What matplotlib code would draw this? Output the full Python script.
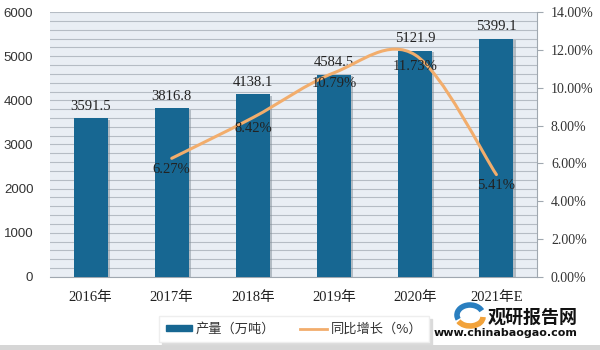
import matplotlib

matplotlib.use("Agg")
import matplotlib.pyplot as plt  # noqa: E402
import matplotlib.patheffects as pe  # noqa: E402
from matplotlib.patches import Arc, Patch, PathPatch, Rectangle  # noqa: E402
from matplotlib.lines import Line2D  # noqa: E402
from matplotlib.path import Path  # noqa: E402

years = ["2016年", "2017年", "2018年", "2019年", "2020年", "2021年E"]
output = [3591.5, 3816.8, 4138.1, 4584.5, 5121.9, 5399.1]
growth = [None, 6.27, 8.42, 10.79, 11.73, 5.41]

BAR = "#176792"
LINE = "#f2ad6c"
SERIF = ["Liberation Serif", "Noto Sans CJK SC"]
SANS = ["Liberation Sans", "Noto Sans CJK SC"]
CJK = ["Noto Sans CJK SC", "DejaVu Sans"]

plt.rcParams["font.family"] = CJK


def smooth_path(xs, ys):
    # Catmull-Rom style cubic Bezier through the points, like a smoothed office chart line
    pts = list(zip(xs, ys))
    verts = [pts[0]]
    codes = [Path.MOVETO]
    n = len(pts)
    for i in range(n - 1):
        p0 = pts[i - 1] if i > 0 else pts[i]
        p1 = pts[i]
        p2 = pts[i + 1]
        p3 = pts[i + 2] if i + 2 < n else pts[i + 1]
        c1 = (p1[0] + (p2[0] - p0[0]) / 6, p1[1] + (p2[1] - p0[1]) / 6)
        c2 = (p2[0] - (p3[0] - p1[0]) / 6, p2[1] - (p3[1] - p1[1]) / 6)
        verts += [c1, c2, p2]
        codes += [Path.CURVE4] * 3
    return Path(verts, codes)


fig = plt.figure(figsize=(6, 3.5), dpi=100)
ax = fig.add_axes([0.0833, 0.2086, 0.8117, 0.7571])
ax.set_facecolor("#e9eef4")
x = list(range(len(years)))

ax.bar(x, output, width=0.42, color=BAR, zorder=3,
       path_effects=[pe.withSimplePatchShadow(offset=(1.5, -1), shadow_rgbFace="#7f8c96", alpha=0.5)])
for xi, v in zip(x, output):
    ax.annotate(f"{v:.1f}", (xi, v), xytext=(0, 4), textcoords="offset points",
                ha="center", va="bottom", fontsize=10.5, family=SERIF, color="#222222", zorder=6)

ax.set_xlim(-0.5, len(years) - 0.5)
ax.set_ylim(0, 6000)
ax.set_yticks(range(0, 6001, 1000))
ax.set_yticks(range(0, 6001, 200), minor=True)
ax.grid(True, which="both", axis="y", color="#b5bcc4", linewidth=0.8, zorder=0)
ax.set_axisbelow(True)
ax.tick_params(axis="y", which="both", length=0, labelsize=9.5, labelcolor="#333333", pad=12)
ax.tick_params(axis="x", length=0, pad=10)
ax.set_xticks(x)
ax.set_xticklabels(years, family=SERIF, fontsize=10.5, color="#222222")
for lab in ax.get_yticklabels():
    lab.set_family(SANS)
for side in ("left", "top", "right"):
    ax.spines[side].set_visible(False)
ax.spines["bottom"].set_color("#a0a8b0")

ax2 = ax.twinx()
ax2.set_ylim(0, 14)
ax2.set_yticks(range(0, 15, 2))
ax2.set_yticklabels([f"{t:.2f}%" for t in range(0, 15, 2)], family=SERIF, fontsize=10, color="#333333")
ax2.tick_params(axis="y", length=4, color="#a0a8b0", pad=6)
for side in ("left", "top", "bottom"):
    ax2.spines[side].set_visible(False)
ax2.spines["right"].set_color("#a0a8b0")

gx = [xi for xi, g in zip(x, growth) if g is not None]
gy = [g for g in growth if g is not None]
ax2.add_patch(PathPatch(smooth_path(gx, gy), fill=False, edgecolor=LINE, linewidth=2.2,
                        capstyle="round", zorder=4))
for xi, g in zip(gx, gy):
    ax2.annotate(f"{g:.2f}%", (xi, g), xytext=(0, -8), textcoords="offset points",
                 ha="center", va="center", fontsize=10.5, family=SERIF, color="#222222", zorder=6)

handles = [Patch(color=BAR), Line2D([], [], color=LINE, linewidth=2)]
leg = fig.legend(handles, ["产量（万吨）", "同比增长（%）"], loc="center",
                 bbox_to_anchor=(0.49, 0.06), ncol=2, frameon=True, fontsize=9.5,
                 handlelength=2.0, handleheight=0.35, handletextpad=0.3, columnspacing=1.9,
                 borderpad=0.5, fancybox=False, shadow={"color": "#d8d8d8", "alpha": 0.9})
leg.get_frame().set_edgecolor("#eeeeee")
for t in leg.get_texts():
    t.set_color("#333333")

# site logo and name in the lower right corner
fig.text(0.963, 0.094, "观研报告网", ha="right", va="center", fontsize=13,
         fontweight="bold", color="#111111")
fig.text(0.963, 0.049, "www.chinabaogao.com", ha="right", va="center", fontsize=8,
         family="DejaVu Sans", fontweight="bold", color="#111111")
fig.add_artist(Arc((4.70, 0.35), 0.26, 0.20, theta1=20, theta2=200, linewidth=4,
                   color="#2a7fc0", transform=fig.dpi_scale_trans))
fig.add_artist(Arc((4.70, 0.33), 0.26, 0.18, theta1=200, theta2=360, linewidth=4,
                   color="#f2a23a", transform=fig.dpi_scale_trans))
fig.patches.append(Rectangle((0, 0), 1, 0.014, transform=fig.transFigure,
                             facecolor="#d6d6d6", edgecolor="none"))

fig.savefig("out.png", facecolor="white")
plt.close(fig)
